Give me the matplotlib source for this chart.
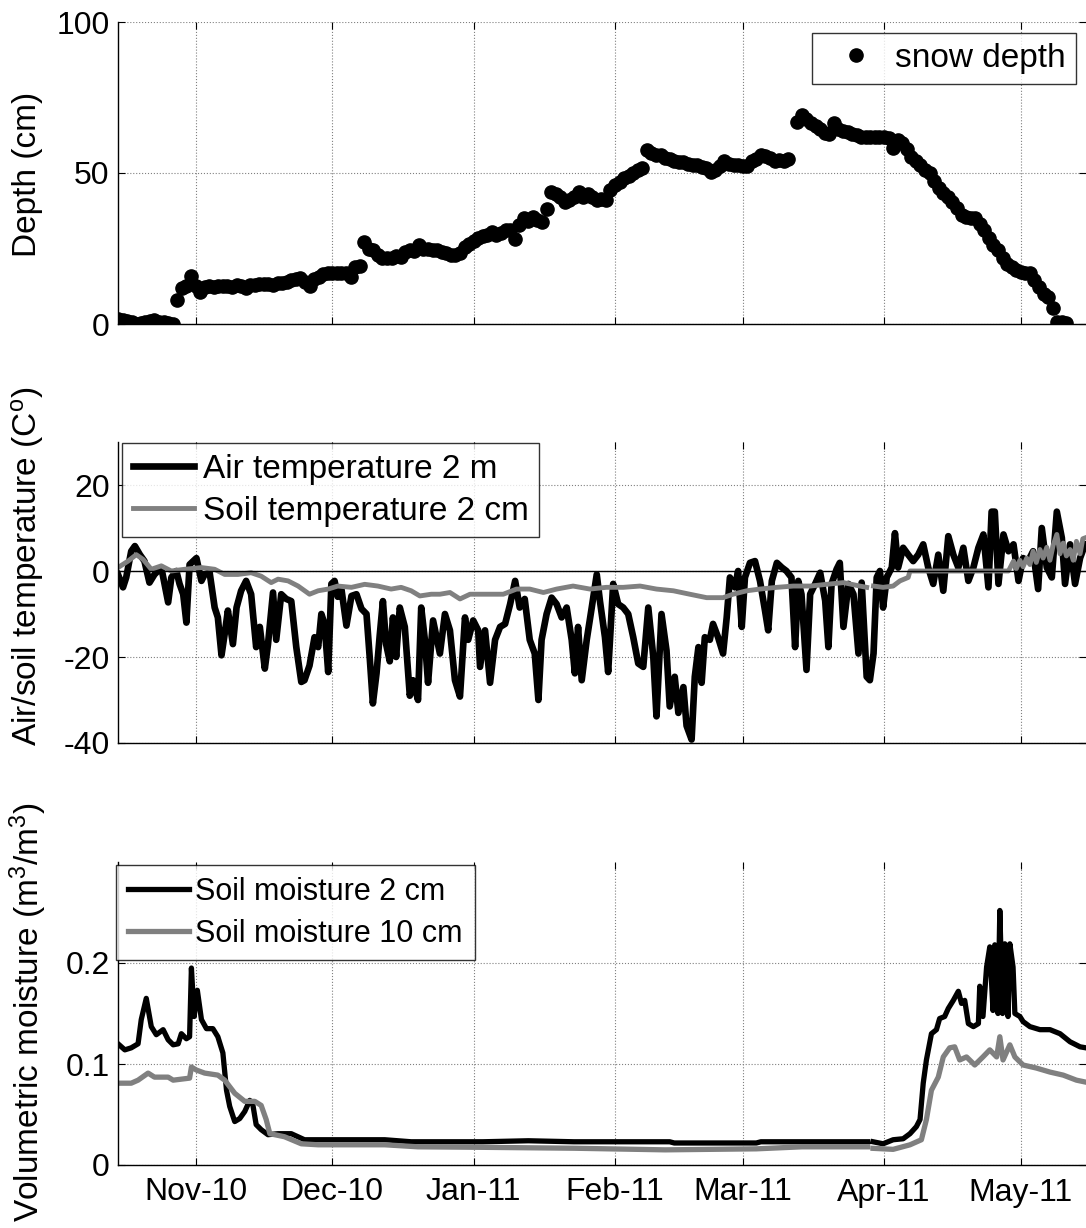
import numpy as np
import matplotlib
matplotlib.use("Agg")
import matplotlib.pyplot as plt

plt.rcParams['font.family'] = ['Liberation Sans', 'DejaVu Sans']
plt.rcParams['mathtext.fontset'] = 'custom'
plt.rcParams['mathtext.rm'] = 'Liberation Sans'
plt.rcParams['mathtext.it'] = 'Liberation Sans:italic'
plt.rcParams['mathtext.default'] = 'regular'
plt.rcParams['axes.unicode_minus'] = False

# ---------------- data (days since 2010-10-15) ----------------
START = np.datetime64('2010-10-15T00:00')
END_DAY = 212.3

snow_depth = [
    1.5, 1.2, 1.0, 0.8, 0.0, 0.3, 0.8, 1.0, 1.2, 0.8,
    0.5, 0.2, 0.0, 8.0, 12.0, 12.5, 16.0, 12.5, 10.5, 12.3,
    12.6, 12.4, 12.5, 12.5, 12.6, 12.4, 12.8, 12.7, 12.0, 12.9,
    13.0, 13.1, 13.2, 13.3, 13.0, 13.5, 13.6, 13.8, 14.5, 14.8,
    15.1, 14.0, 12.7, 14.8, 15.5, 16.5, 16.8, 17.0, 17.0, 16.8,
    17.0, 15.6, 19.0, 19.2, 27.3, 25.0, 24.5, 23.0, 22.0, 21.8,
    22.0, 22.5, 22.3, 24.0, 24.5, 24.3, 26.3, 25.0, 24.8, 24.5,
    24.5, 24.0, 23.5, 23.0, 23.0, 23.5, 25.6, 26.5, 27.5, 28.4,
    29.0, 29.5, 30.5, 29.5, 30.0, 31.0, 31.1, 28.0, 32.8, 35.0,
    34.0, 35.5, 34.5, 33.8, 38.0, 43.8, 43.0, 42.2, 40.5, 41.0,
    42.0, 43.8, 42.0, 43.0, 42.0, 41.0, 41.5, 41.0, 44.4, 46.0,
    47.1, 48.5, 49.0, 49.9, 51.0, 51.6, 57.6, 56.5, 56.0, 56.0,
    55.0, 54.5, 54.0, 53.7, 53.5, 53.0, 52.8, 52.6, 52.0, 51.5,
    50.4, 51.0, 52.2, 53.9, 53.0, 52.5, 52.6, 52.4, 52.2, 53.9,
    54.5, 56.0, 55.5, 54.9, 54.0, 54.2, 54.0, 54.5, np.nan, 67.0,
    69.2, 68.0, 66.4, 65.5, 64.5, 63.2, 63.0, 66.4, 64.5, 64.0,
    63.5, 63.0, 62.5, 62.0, 62.0, 62.0, 62.0, 62.0, 62.0, 61.5,
    58.2, 61.0, 60.0, 58.0, 55.4, 54.0, 52.5, 51.0, 49.9, 47.5,
    45.0, 43.5, 42.2, 40.5, 38.5, 36.1, 35.5, 35.2, 35.0, 33.0,
    31.1, 28.5, 26.0, 24.5, 22.0, 20.0, 19.0, 18.0, 17.3, 17.0,
    16.8, 14.5, 12.4, 10.0, 9.0, 5.2, 0.8, 0.5, 0.2,
]
snow_day = list(range(len(snow_depth)))

air_day = [
    0, 1.1, 1.8, 2.9, 3.7, 4.8, 5.8, 6.9, 8.0, 9.5,
    11.0, 11.7, 12.8, 13.5, 14.3, 15.0, 15.7, 17.2, 18.3, 19.0,
    20.1, 21.2, 21.9, 22.7, 23.4, 24.1, 25.2, 26.0, 27.0, 28.1,
    29.2, 30.3, 31.1, 32.2, 32.9, 34.0, 34.7, 35.8, 36.9, 38.0,
    39.1, 40.2, 40.9, 42.0, 43.1, 43.9, 44.6, 45.3, 46.1, 46.8,
    47.5, 48.2, 49.0, 50.1, 51.2, 52.3, 53.4, 54.5, 55.2, 55.9,
    56.7, 57.4, 58.1, 58.8, 59.6, 60.3, 61.0, 61.8, 62.9, 64.0,
    64.7, 65.8, 66.5, 67.3, 68.0, 69.1,
    70.6, 71.7, 72.8, 73.9, 75.0, 76.1, 76.8, 77.9, 79.0, 79.4,
    80.5, 81.6, 82.7, 83.8, 84.9, 86.0, 87.1, 88.1, 89.2, 90.3,
    91.4, 92.2, 92.9, 94.0, 95.1, 96.2, 97.3, 98.4, 99.5, 100.2,
    100.9, 101.7, 102.8, 103.9, 105.0, 105.7, 106.8, 107.5, 108.6, 109.7,
    110.8, 111.9, 113.0, 114.1, 115.2, 116.3, 117.4, 118.1, 119.2, 120.3,
    121.0, 122.1, 122.9, 124.0, 124.7, 125.8, 126.5, 127.3, 128.0, 128.7,
    129.8, 130.5, 131.6, 132.7, 133.5, 134.2, 135.3, 136.0, 136.8, 137.5,
    138.6, 139.7,
    140.8, 141.9, 142.6, 143.4, 144.5, 145.6, 146.6, 147.7, 148.5, 149.2,
    149.9, 151.0, 151.8, 152.9, 154.0, 155.1, 155.8, 156.5, 157.6, 158.3,
    159.1, 160.2, 161.3, 162.4, 163.1, 164.2, 164.9, 165.7, 166.4, 167.1,
    167.8, 168.6, 169.7, 170.4, 171.1, 172.2, 173.3, 174.4, 175.5, 176.6,
    177.7, 178.8, 179.9, 181.0, 182.1, 183.2, 184.3, 185.4, 186.5, 187.6,
    188.7, 189.8, 190.9, 191.6, 192.3, 193.1, 194.2, 195.3, 196.4, 197.5,
    198.5, 199.6, 200.7, 201.8, 202.6, 203.7, 204.8, 205.9, 207.0, 207.7,
    208.8, 209.9, 211.0, 212.1,
]
air_temp = [
    -0.8, -3.8, -1.5, 4.6, 5.8, 3.8, 2.3, -2.7, -0.8, 0.8,
    -7.3, -1.5, 0.0, -3.0, -5.4, -12.0, 1.5, 3.0, -2.3, -0.8,
    -0.4, -8.5, -10.8, -19.6, -14.6, -9.2, -17.0, -8.5, -4.6, -2.3,
    -5.4, -17.7, -13.0, -22.7, -17.0, -5.0, -16.0, -5.4, -6.5, -7.0,
    -17.7, -25.8, -25.4, -22.0, -15.4, -17.7, -10.0, -12.3, -23.5, -3.0,
    -2.3, -6.0, -4.2, -12.7, -5.8, -5.4, -8.8, -10.0, -20.0, -30.8,
    -23.8, -15.0, -7.0, -17.0, -21.0, -10.8, -20.0, -8.5, -13.0, -29.0,
    -25.4, -30.0, -8.5, -16.0, -26.0, -11.5,
    -19.2, -10.0, -13.8, -25.4, -29.2, -10.8, -16.0, -11.5, -13.8, -22.3,
    -13.8, -26.0, -16.0, -13.0, -12.3, -7.7, -2.3, -8.5, -6.5, -16.0,
    -19.2, -30.0, -16.0, -10.0, -6.2, -7.7, -10.8, -8.5, -16.0, -23.8,
    -13.0, -25.4, -16.0, -8.5, -0.8, -7.0, -15.4, -23.5, -3.0, -7.7,
    -8.5, -10.0, -15.4, -21.5, -22.3, -8.5, -20.0, -33.8, -10.0, -18.5,
    -31.5, -24.6, -33.0, -27.0, -36.0, -39.2, -24.6, -17.7, -26.0, -15.4,
    -16.0, -12.3, -15.4, -19.2, -10.8, -1.5, -3.8, 0.0, -13.0, -1.5,
    1.9, 2.3,
    -2.3, -9.2, -13.8, -2.3, 1.9, 0.8, 0.0, -1.5, -17.7, -2.3,
    -5.4, -23.0, -5.4, -3.0, -0.4, -6.9, -17.7, -3.0, 0.4, 1.9,
    -13.0, -3.0, -5.4, -19.2, -2.7, -24.6, -25.4, -19.2, -1.5, 0.0,
    -8.5, -1.5, 0.8, 8.8, 0.8, 5.4, 3.8, 2.3, 3.8, 6.2,
    0.8, -3.0, 3.8, -4.6, 8.1, 3.8, 0.8, 5.4, -2.3, 0.8,
    5.4, 8.5, -3.8, 13.8, 13.8, -3.0, 8.5, 4.6, 6.2, -2.3,
    3.0, 2.3, 4.6, -4.2, 10.0, 0.8, -1.5, 13.8, 7.7, -3.0,
    6.2, -3.0, 3.0, 6.2,
]

soil_t_day = [
    0, 2.2, 4.0, 5.5, 7.3, 9.5, 11.7, 14.6, 18.3, 21.2,
    23.4, 26.3, 29.2, 31.4, 33.6, 35.1, 37.3, 39.5, 42.0, 43.9,
    46.1, 48.2, 51.2, 54.1, 57.0, 59.9, 62.1, 64.3, 66.2, 68.7,
    70.6, 72.8, 75.0, 77.2, 80.8, 84.5, 87.4, 90.3, 93.3, 96.2,
    99.8, 103.5, 107.1, 110.8, 114.5, 118.1, 121.8, 125.4, 129.1, 132.7,
    134.9, 137.9, 140.8, 144.5, 148.1, 151.8, 155.4, 159.1, 162.7, 164.2,
    164.6, 165.7, 167.8, 170.0, 171.5, 173.3, 173.7, 180.0, 190.0, 195.3,
    196.4, 197.0, 197.8, 198.5, 199.3, 200.0, 200.7, 201.4, 202.2, 202.9,
    203.7, 204.4, 205.1, 205.9, 206.6, 207.3, 208.0, 208.8, 209.5, 210.2,
    211.0, 211.6, 212.1,
]
soil_temp = [
    0.8, 2.3, 3.8, 2.7, 0.4, 1.2, 0.0, 0.4, 0.8, 0.4,
    -0.8, -0.8, -0.4, -1.2, -2.7, -1.9, -2.3, -3.5, -5.4, -4.6,
    -4.2, -3.5, -3.8, -3.1, -3.5, -4.2, -3.8, -4.6, -5.8, -5.4,
    -5.4, -5.0, -6.5, -5.4, -5.4, -5.4, -4.2, -4.2, -5.0, -4.2,
    -3.5, -4.2, -3.8, -3.8, -3.5, -4.2, -4.6, -5.4, -6.2, -6.2,
    -5.4, -4.6, -4.2, -3.8, -3.5, -3.5, -3.1, -2.7, -3.5, -3.8,
    np.nan, -3.5, -3.8, -3.5, -2.3, -1.5, 0.0, 0.0, 0.0, 0.0,
    2.3, 0.5, 2.5, 1.0, 3.0, 1.5, 4.6, 2.0, 5.0, 3.0,
    5.5, 2.5, 6.0, 8.5, 4.0, 6.5, 3.5, 5.0, 2.5, 6.9,
    4.0, 7.5, 7.7,
]

sm2_day = [
    0, 1.5, 2.9, 4.4, 5.1, 6.2, 7.3, 8.4, 9.9, 11.0,
    12.1, 13.2, 13.9, 15.0, 15.7, 16.1, 16.7, 17.4, 18.3, 19.4,
    20.8, 21.9, 23.0, 23.8, 24.5, 25.6, 26.7, 27.8, 28.9, 29.6,
    30.3, 31.4, 32.9, 35.1, 38.0, 40.9, 43.9, 46.8, 51.2, 58.5,
    64.3, 70, 80, 90, 100, 110, 121, 122, 140, 141,
    160, 164.4, 164.9, 165.6, 167.8, 170.0, 172.2, 173.7, 175.1, 175.9,
    176.6, 177.3, 178.4, 179.5, 180.2, 181.3, 182.1, 183.2, 184.3, 185.0,
    185.7, 186.5, 187.6, 188.7, 189.0, 189.7, 190.5, 191.2, 191.9, 192.3,
    193.0, 193.4, 194.0, 194.5, 195.2, 195.6, 196.3, 196.7, 197.8, 198.5,
    200.0, 202.2, 204.4, 206.6, 208.8, 211.0, 212.3,
]
sm2_value = [
    .120, .114, .116, .120, .144, .165, .137, .129, .134, .124,
    .119, .120, .130, .125, .127, .195, .147, .173, .144, .135,
    .135, .127, .111, .074, .058, .043, .046, .053, .064, .059,
    .040, .035, .030, .031, .031, .025, .025, .025, .025, .025,
    .023, .023, .023, .024, .023, .023, .023, .0218, .0218, .023,
    .023, .023, np.nan, .023, .021, .025, .026, .031, .038, .045,
    .081, .104, .130, .134, .145, .147, .155, .163, .172, .160,
    .163, .140, .137, .140, .177, .147, .196, .216, .153, .218,
    .150, .252, .150, .219, .147, .219, .196, .150, .147, .142,
    .137, .134, .134, .130, .122, .117, .116,
]

sm10_day = [
    0, 2.9, 4.4, 6.6, 8.0, 11.0, 12.1, 15.7, 16.1, 17.2,
    19.0, 21.9, 23.4, 25.6, 27.8, 30.0, 31.4, 32.5, 33.3, 36.5,
    40.2, 43.9, 51.2, 58.5, 65.8, 80, 100, 120, 140, 150,
    164.4, 164.9, 165.6, 170.0, 173.7, 176.2, 177.3, 178.4, 179.9, 181.0,
    182.4, 183.5, 184.6, 186.1, 187.9, 189.7, 191.2, 192.7, 193.4, 194.1,
    195.6, 196.7, 198.5, 201.4, 204.4, 207.3, 210.2, 212.3,
]
sm10_value = [
    .081, .081, .084, .091, .087, .087, .084, .086, .097, .094,
    .091, .089, .084, .071, .063, .063, .059, .045, .031, .028,
    .021, .020, .020, .020, .018, .0175, .0166, .015, .016, .018,
    .018, np.nan, .0165, .0155, .020, .025, .045, .074, .087, .107,
    .116, .117, .104, .107, .099, .107, .114, .107, .127, .104,
    .119, .107, .099, .096, .092, .089, .084, .082,
]

month_ticks = ['2010-11-01', '2010-12-01', '2011-01-01', '2011-02-01',
               '2011-03-01', '2011-04-01', '2011-05-01']
month_labels = ['Nov-10', 'Dec-10', 'Jan-11', 'Feb-11', 'Mar-11', 'Apr-11', 'May-11']


def to_dates(days):
    mins = np.round(np.asarray(days, dtype=float) * 1440).astype('int64')
    return START + mins.astype('timedelta64[m]')


# ---------------- figure ----------------
W, H = 1086, 1228
fig = plt.figure(figsize=(W / 100, H / 100), dpi=100)


def add_ax(top, bottom, left=118, right=1086):
    return fig.add_axes([left / W, 1 - bottom / H, (right - left) / W, (bottom - top) / H])


ax1 = add_ax(22, 324)
ax2 = add_ax(442, 743)
ax3 = add_ax(862, 1165)

FS = 23
GRAY = '#808080'

ax1.plot(to_dates(snow_day), snow_depth, 'o', color='k', ms=9.5, label='snow depth')
ax1.set_ylim(0, 100)
ax1.set_yticks([0, 50, 100])

ax2.plot(to_dates(air_day), air_temp, color='k', lw=4.8, label='Air temperature 2 m',
         solid_joinstyle='round')
ax2.plot(to_dates(soil_t_day), soil_temp, color=GRAY, lw=3.5, label='Soil temperature 2 cm')
ax2.axhline(0, color='k', lw=1.0, zorder=3)
ax2.set_ylim(-40, 30)
ax2.set_yticks([-40, -20, 0, 20])

ax3.plot(to_dates(sm2_day), sm2_value, color='k', lw=3.8, label='Soil moisture 2 cm')
ax3.plot(to_dates(sm10_day), sm10_value, color=GRAY, lw=3.8, label='Soil moisture 10 cm')
ax3.set_ylim(0, 0.3)
ax3.set_yticks([0, 0.1, 0.2])
ax3.set_yticklabels(['0', '0.1', '0.2'])

xt = np.array(month_ticks, dtype='datetime64[D]')
for ax in (ax1, ax2, ax3):
    ax.set_xlim(to_dates([0])[0], to_dates([END_DAY])[0])
    ax.set_xticks(xt)
    ax.set_xticklabels(month_labels if ax is ax3 else [''] * len(month_labels))
    ax.grid(True, linestyle=':', color='0.5', lw=0.8)
    ax.set_axisbelow(True)
    ax.spines['top'].set_visible(False)
    ax.spines['right'].set_visible(False)
    ax.spines['left'].set_linewidth(1.0)
    ax.spines['bottom'].set_linewidth(1.0)
    ax.tick_params(direction='in', length=5, width=0.8, top=True, right=True,
                   labelsize=FS, pad=6)
    ax.tick_params(axis='x', pad=9)

LFS = 24
ax1.set_ylabel('Depth (cm)', fontsize=LFS)
ax2.set_ylabel('Air/soil temperature (C$^o$)', fontsize=LFS)
ax3.set_ylabel('Volumetric moisture (m$^3$/m$^3$)', fontsize=LFS)
for ax, yc, top, bot in ((ax1, 174, 22, 324), (ax2, 566, 442, 743), (ax3, 1012, 862, 1165)):
    ax.yaxis.label.set_va('center')
    ax.yaxis.set_label_coords((28 - 118) / (1086 - 118), (bot - yc) / (bot - top))

leg_kw = dict(frameon=True, fancybox=False, borderaxespad=0,
              bbox_transform=fig.transFigure)
l1 = ax1.legend(loc='upper right', bbox_to_anchor=(1076 / W, 1 - 33 / H), fontsize=24,
                handlelength=2.08, handletextpad=0.13, borderpad=0.3, **leg_kw)
l2 = ax2.legend(loc='upper left', bbox_to_anchor=(122 / W, 1 - 443 / H), fontsize=24,
                handlelength=1.85, handletextpad=0.25, borderpad=0.32,
                labelspacing=0.33, **leg_kw)
l3 = ax3.legend(loc='upper left', bbox_to_anchor=(116 / W, 1 - 865 / H), fontsize=22,
                handlelength=2.0, handletextpad=0.22, borderpad=0.38,
                labelspacing=0.4, **leg_kw)
for lg in (l1, l2, l3):
    lg.get_frame().set_edgecolor('k')
    lg.get_frame().set_linewidth(1.0)

fig.savefig('out.png', dpi=100)
